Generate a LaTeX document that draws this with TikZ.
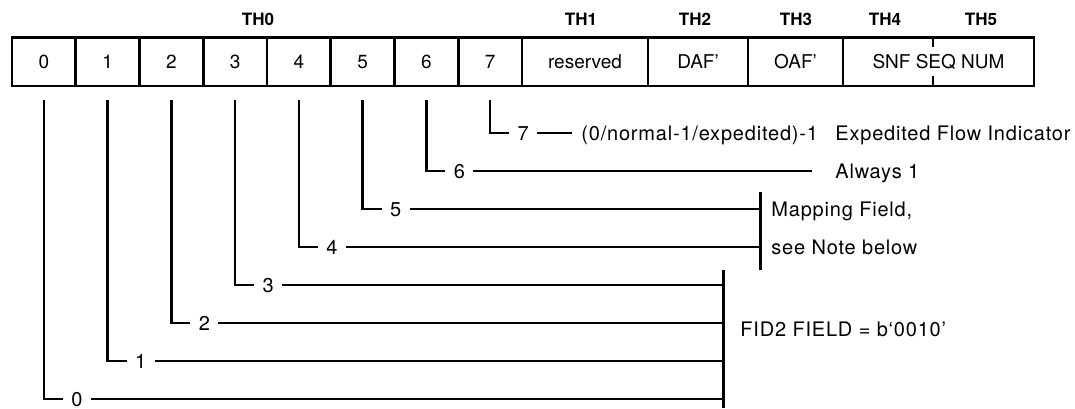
\documentclass[tikz,border=0pt]{standalone}
\usepackage{fontspec}
\setmainfont{TeX Gyre Heros}
\newfontfamily\notefont[LetterSpace=4]{TeX Gyre Heros}
\tikzset{
  field/.style={draw, line width=1.4pt, minimum height=24.25pt, inner sep=0pt,
    text height=6.8pt, text depth=0pt, font=\fontsize{9.5}{11}\selectfont},
  thead/.style={inner sep=0pt, font=\fontsize{8.5}{10}\selectfont\bfseries},
  bitno/.style={inner xsep=4pt, inner ysep=0pt, text height=7.2pt, text depth=0pt,
    font=\notefont\fontsize{10}{12}\selectfont},
  note/.style={anchor=west, inner sep=0pt, text height=7.2pt, text depth=0pt,
    font=\notefont\fontsize{10}{12}\selectfont},
  lead/.style={line width=1.15pt},
  brace/.style={line width=1.5pt}
}
\begin{document}
\begin{tikzpicture}[x=0.5pt, y=-0.5pt]
  \useasboundingbox (0,0) rectangle (1075,408);

  \foreach \i in {0,...,7}
    \node[field, minimum width=31.875pt] (b\i) at ({43.875+63.75*\i},61.75) {\i};
  \node[field, minimum width=63pt] (resv) at (585,61.75) {reserved};
  \node[field, minimum width=50pt] (daf) at (698,61.75) {DAF’};
  \node[field, minimum width=47.5pt] (oaf) at (795.5,61.75) {OAF’};
  \node[field, minimum width=95.5pt] (snf) at (938.5,61.75) {SNF SEQ NUM};
  \draw[line width=1.1pt] (933,37.5) -- (933,47) (933,76) -- (933,86);

  \node[thead] (th0) at (258,19.5) {TH0};
  \node[thead] (th1) at (581,19.5) {TH1};
  \node[thead] (th2) at (695,19.5) {TH2};
  \node[thead] (th3) at (796,19.5) {TH3};
  \node[thead] (th4) at (885,19.5) {TH4};
  \node[thead] (th5) at (981,19.5) {TH5};

  \foreach \i in {0,...,7} {
    \node[bitno] (n\i) at ({76.875+63.75*\i},{399-38*\i}) {\i};
    \draw[lead] ([yshift=-6.5pt]b\i.south) |- (n\i.west);
  }

  \node[note] (flow) at (581,133) {(0/normal-1/expedited)-1};
  \node[note] (efi) at (835,133) {Expedited Flow Indicator};
  \node[note] (always) at (835,171) {Always 1};
  \node[note] (map1) at (771,209) {Mapping Field,};
  \node[note] (map2) at (771,247) {see Note below};
  \node[note] (fid) at (740,329) {FID2 FIELD = b‘0010’};

  \coordinate (mapT) at (760,192);
  \coordinate (mapB) at (760,270);
  \coordinate (fidT) at (723,270);
  \coordinate (fidB) at (723,408);
  \draw[brace] (mapT) -- (mapB);
  \draw[brace] (fidT) -- (fidB);

  \draw[lead] (n7.east) -- ([xshift=-4.5pt]flow.west);
  \draw[lead] (n6.east) -- ([xshift=-11.5pt]always.west);
  \foreach \i in {4,5}
    \draw[lead] (n\i.east) -- (n\i.east -| mapT);
  \foreach \i in {0,...,3}
    \draw[lead] (n\i.east) -- (n\i.east -| fidT);
\end{tikzpicture}
\end{document}
